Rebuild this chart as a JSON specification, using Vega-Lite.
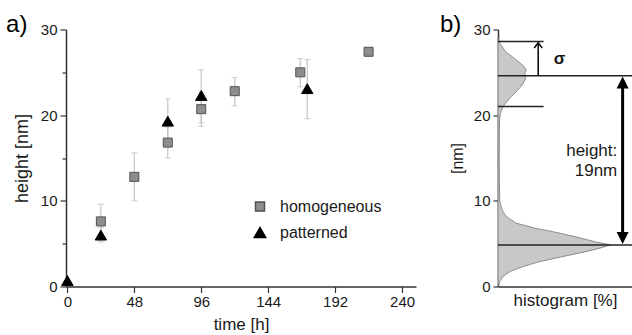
{
  "$schema": "https://vega.github.io/schema/vega-lite/v6.json",
  "padding": {"left": 6, "top": 12.5, "right": 0, "bottom": 0},
  "background": "white",
  "spacing": 23,
  "config": {
    "font": "Liberation Sans",
    "view": {"stroke": null},
    "axis": {
      "labelFont": "Liberation Sans",
      "titleFont": "Liberation Sans",
      "labelFontSize": 15,
      "titleFontSize": 16,
      "titleFontWeight": "normal",
      "labelColor": "#1a1a1a",
      "titleColor": "#1a1a1a",
      "domainColor": "#333333",
      "tickColor": "#333333",
      "domainWidth": 1.5,
      "tickWidth": 1.2,
      "grid": false
    }
  },
  "datasets": {
    "growth": [
      {"t": 0, "series": "patterned", "v": 0.7, "lo": 0.7, "hi": 0.7},
      {"t": 24, "series": "homogeneous", "v": 7.6, "lo": 5.5, "hi": 9.6},
      {"t": 24, "series": "patterned", "v": 6.0, "lo": 5.2, "hi": 6.9},
      {"t": 48, "series": "homogeneous", "v": 12.8, "lo": 10.0, "hi": 15.6},
      {"t": 72, "series": "homogeneous", "v": 16.8, "lo": 15.0, "hi": 18.6},
      {"t": 72, "series": "patterned", "v": 19.3, "lo": 16.6, "hi": 21.9},
      {"t": 96, "series": "homogeneous", "v": 20.7, "lo": 18.7, "hi": 22.7},
      {"t": 96, "series": "patterned", "v": 22.3, "lo": 19.1, "hi": 25.3},
      {"t": 120, "series": "homogeneous", "v": 22.8, "lo": 21.1, "hi": 24.4},
      {"t": 167, "series": "homogeneous", "v": 25.0, "lo": 23.3, "hi": 26.6},
      {"t": 172, "series": "patterned", "v": 23.1, "lo": 19.6, "hi": 26.5},
      {"t": 216, "series": "homogeneous", "v": 27.4, "lo": 27.1, "hi": 27.7}
    ],
    "hist": [
      {"nm": 0, "pct": 0},
      {"nm": 0.58, "pct": 1.3},
      {"nm": 1.17, "pct": 3.7},
      {"nm": 1.75, "pct": 9},
      {"nm": 2.33, "pct": 18.7},
      {"nm": 2.9, "pct": 31},
      {"nm": 3.5, "pct": 48.5},
      {"nm": 4.08, "pct": 66},
      {"nm": 4.47, "pct": 76},
      {"nm": 4.86, "pct": 84},
      {"nm": 5.2, "pct": 73},
      {"nm": 5.8, "pct": 58},
      {"nm": 6.4, "pct": 41},
      {"nm": 6.8, "pct": 28},
      {"nm": 7.4, "pct": 13.4},
      {"nm": 8.2, "pct": 6},
      {"nm": 8.9, "pct": 3.2},
      {"nm": 9.9, "pct": 1.4},
      {"nm": 12, "pct": 1},
      {"nm": 15, "pct": 0.8},
      {"nm": 19.0, "pct": 1.0},
      {"nm": 20.2, "pct": 1.7},
      {"nm": 21.0, "pct": 3.7},
      {"nm": 22.0, "pct": 8.7},
      {"nm": 22.7, "pct": 13.4},
      {"nm": 23.5, "pct": 18},
      {"nm": 24.3, "pct": 20.7},
      {"nm": 24.9, "pct": 20},
      {"nm": 25.3, "pct": 21},
      {"nm": 25.8, "pct": 18.7},
      {"nm": 26.6, "pct": 12.5},
      {"nm": 27.4, "pct": 5.7},
      {"nm": 28.4, "pct": 1.3},
      {"nm": 29.0, "pct": 0}
    ]
  },
  "hconcat": [
    {
      "width": 350,
      "height": 257,
      "layer": [
        {
          "data": {"name": "growth"},
          "mark": {"type": "errorbar", "ticks": {"size": 6, "color": "#c4c4c4"}, "color": "#c4c4c4", "thickness": 1.2},
          "encoding": {
            "x": {"field": "t", "type": "quantitative", "title": "time [h]", "scale": {"domain": [-1, 250], "nice": false}},
            "y": {"field": "lo", "type": "quantitative", "title": "height [nm]", "scale": {"domain": [0, 30], "nice": false}},
            "y2": {"field": "hi"}
          }
        },
        {
          "data": {"name": "growth"},
          "mark": {"type": "point", "filled": true, "opacity": 1, "strokeWidth": 1},
          "encoding": {
            "x": {
              "field": "t", "type": "quantitative",
              "title": "time [h]",
              "scale": {"domain": [-1, 250], "nice": false},
              "axis": {
                "title": "time [h]",
                "values": [0, 24, 48, 72, 96, 120, 144, 168, 192, 216, 240],
                "labelExpr": "datum.value % 48 == 0 ? datum.label : ''",
                "tickSize": 6,
                "labelPadding": 2,
                "titlePadding": 7,
                "titleFontSize": 17
              }
            },
            "y": {
              "field": "v", "type": "quantitative",
              "title": "height [nm]",
              "scale": {"domain": [0, 30], "nice": false},
              "axis": {
                "title": "height [nm]",
                "values": [0, 2.5, 5, 7.5, 10, 12.5, 15, 17.5, 20, 22.5, 25, 27.5, 30],
                "labelExpr": "datum.value % 10 == 0 ? datum.label : ''",
                "tickSize": {"condition": {"test": "datum.value % 10 == 0", "value": 6}, "value": 4},
                "labelPadding": 3,
                "titlePadding": 9,
                "titleFontSize": 18
              }
            },
            "shape": {
              "field": "series", "type": "nominal",
              "scale": {"domain": ["homogeneous", "patterned"], "range": ["square", "triangle-up"]},
              "legend": {
                "title": null,
                "orient": "none",
                "legendX": 186,
                "legendY": 169,
                "padding": 0,
                "labelFontSize": 16,
                "labelFont": "Liberation Sans",
                "labelColor": "#1a1a1a",
                "labelOffset": 12,
                "rowPadding": 10
              }
            },
            "color": {
              "field": "series", "type": "nominal",
              "scale": {"domain": ["homogeneous", "patterned"], "range": ["#8e8e8e", "#000000"]}
            },
            "stroke": {
              "field": "series", "type": "nominal",
              "scale": {"domain": ["homogeneous", "patterned"], "range": ["#505050", "#000000"]}
            },
            "size": {
              "field": "series", "type": "nominal",
              "scale": {"domain": ["homogeneous", "patterned"], "range": [81, 130]}
            }
          }
        },
        {
          "data": {"values": [{"x": -44, "y": 29.7, "label": "a)"}]},
          "mark": {"type": "text", "align": "left", "baseline": "alphabetic", "fontSize": 24, "color": "#000000"},
          "encoding": {
            "x": {"field": "x", "type": "quantitative"},
            "y": {"field": "y", "type": "quantitative"},
            "text": {"field": "label"}
          }
        }
      ]
    },
    {
      "width": 134,
      "height": 257,
      "layer": [
        {
          "data": {"name": "hist"},
          "mark": {"type": "area", "orient": "horizontal", "color": "#c8c8c8", "stroke": "#777777", "strokeWidth": 0.8},
          "encoding": {
            "y": {
              "field": "nm", "type": "quantitative",
              "scale": {"domain": [0, 30], "nice": false},
              "axis": {
                "title": "[nm]",
                "values": [0, 10, 20, 30],
                "tickSize": 5,
                "labelPadding": 3,
                "titlePadding": 8
              }
            },
            "x": {
              "field": "pct", "type": "quantitative",
              "scale": {"domain": [0, 100], "nice": false},
              "axis": {
                "title": "histogram [%]",
                "labels": false,
                "ticks": false,
                "titlePadding": 6,
                "titleFontSize": 17
              }
            }
          }
        },
        {
          "data": {"values": [
            {"y": 24.6, "x0": 0, "x1": 100},
            {"y": 4.85, "x0": 0, "x1": 100},
            {"y": 28.6, "x0": 0, "x1": 34},
            {"y": 21.0, "x0": 0, "x1": 34}
          ]},
          "mark": {"type": "rule", "color": "#222222", "strokeWidth": 1.5},
          "encoding": {
            "y": {"field": "y", "type": "quantitative"},
            "x": {"field": "x0", "type": "quantitative"},
            "x2": {"field": "x1"}
          }
        },
        {
          "data": {"values": [{"x": 30, "y0": 24.6, "y1": 28.4}]},
          "mark": {"type": "rule", "color": "#000000", "strokeWidth": 1.5},
          "encoding": {
            "x": {"field": "x", "type": "quantitative"},
            "y": {"field": "y0", "type": "quantitative"},
            "y2": {"field": "y1"}
          }
        },
        {
          "data": {"values": [{"x": 93, "y0": 23.2, "y1": 6.1}]},
          "mark": {"type": "rule", "color": "#000000", "strokeWidth": 3},
          "encoding": {
            "x": {"field": "x", "type": "quantitative"},
            "y": {"field": "y0", "type": "quantitative"},
            "y2": {"field": "y1"}
          }
        },
        {
          "data": {"values": [{"x": 30, "y": 28.45}]},
          "mark": {"type": "point", "shape": "M-1,1.3L0,0L1,1.3", "filled": false, "size": 64, "stroke": "#000000", "strokeWidth": 1.5, "opacity": 1},
          "encoding": {
            "x": {"field": "x", "type": "quantitative"},
            "y": {"field": "y", "type": "quantitative"}
          }
        },
        {
          "data": {"values": [{"x": 93, "y": 24.5}]},
          "mark": {"type": "point", "shape": "M0,0L1,2L-1,2Z", "filled": true, "size": 144, "color": "#000000", "opacity": 1},
          "encoding": {
            "x": {"field": "x", "type": "quantitative"},
            "y": {"field": "y", "type": "quantitative"}
          }
        },
        {
          "data": {"values": [{"x": 93, "y": 4.97}]},
          "mark": {"type": "point", "shape": "M0,0L1,-2L-1,-2Z", "filled": true, "size": 144, "color": "#000000", "opacity": 1},
          "encoding": {
            "x": {"field": "x", "type": "quantitative"},
            "y": {"field": "y", "type": "quantitative"}
          }
        },
        {
          "data": {"values": [{"x": 46, "y": 26.0, "label": "σ"}]},
          "mark": {"type": "text", "align": "center", "baseline": "alphabetic", "fontSize": 17, "fontWeight": "bold", "color": "#1a1a1a"},
          "encoding": {
            "x": {"field": "x", "type": "quantitative"},
            "y": {"field": "y", "type": "quantitative"},
            "text": {"field": "label"}
          }
        },
        {
          "data": {"values": [
            {"x": 89, "y": 15.2, "label": "height:"},
            {"x": 89, "y": 12.9, "label": "19nm"}
          ]},
          "mark": {"type": "text", "align": "right", "baseline": "alphabetic", "fontSize": 17, "color": "#1a1a1a"},
          "encoding": {
            "x": {"field": "x", "type": "quantitative"},
            "y": {"field": "y", "type": "quantitative"},
            "text": {"field": "label"}
          }
        },
        {
          "data": {"values": [{"x": -43.3, "y": 29.7, "label": "b)"}]},
          "mark": {"type": "text", "align": "left", "baseline": "alphabetic", "fontSize": 24, "color": "#000000"},
          "encoding": {
            "x": {"field": "x", "type": "quantitative"},
            "y": {"field": "y", "type": "quantitative"},
            "text": {"field": "label"}
          }
        }
      ]
    }
  ]
}
